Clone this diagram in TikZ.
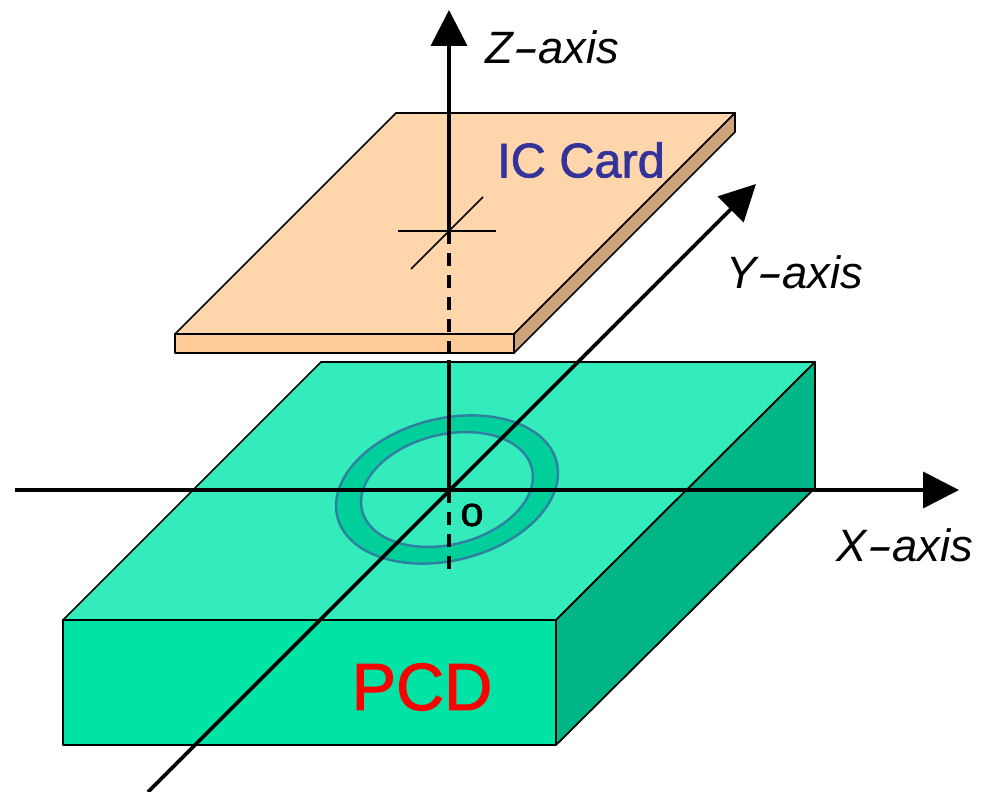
\documentclass[tikz,border=0pt]{standalone}
\usepackage{fontspec}
\setmainfont{Liberation Sans}
\newfontface\boldish[FakeBold=1.5]{Liberation Sans}
\usetikzlibrary{arrows.meta}
\definecolor{pcdfront}{HTML}{00E3A5}
\definecolor{pcdtop}{HTML}{33EBBB}
\definecolor{pcdside}{HTML}{00B586}
\definecolor{ringfill}{HTML}{00CF9B}
\definecolor{ringline}{HTML}{2F80A0}
\definecolor{cardtop}{HTML}{FFD5AC}
\definecolor{cardfront}{HTML}{FFCC99}
\definecolor{cardside}{HTML}{CCA37A}
\definecolor{cardtext}{HTML}{333399}
\newcommand{\hy}{\scalebox{1.7}[1]{-}}
\tikzset{
  solidface/.style={draw=black,line width=1.3pt,line join=round},
  axisline/.style={draw=black,line width=2.8pt},
  axisarrow/.style={axisline,-{Triangle[length=27pt,width=27pt]}},
  dashline/.style={axisline,dash pattern=on 9.5pt off 7pt},
  thinline/.style={draw=black,line width=1.3pt},
  axislabel/.style={font=\fontsize{34}{34}\selectfont\itshape,inner sep=0pt},
}
\begin{document}
\begin{tikzpicture}[x=0.75pt,y=-0.75pt]
\useasboundingbox (0,0) rectangle (983,792);
% named points
\coordinate (O) at (449,490);
\coordinate (Ztop) at (449,10);
\coordinate (Zcard) at (449,231);
\coordinate (Zpcd) at (449,360);
\coordinate (Zlow) at (449,570);
\coordinate (Xl) at (15,490);
\coordinate (Xr) at (959,490);
\coordinate (Yl) at (148,792);
\coordinate (Yr) at (756,184);
% PCD
\path[solidface,fill=pcdtop] (63,620) -- (321,362) -- (815,362) -- (556,620) -- cycle;
\path[solidface,fill=pcdfront] (63,620) rectangle (556,745);
\path[solidface,fill=pcdside] (556,620) -- (815,362) -- (815,488) -- (556,745) -- cycle;
% Ring
\path[fill=ringfill,even odd rule,draw=ringline,line width=1.8pt]
  [rotate around={14:(447,489.5)}]
  (447,489.5) ellipse [x radius=113,y radius=71]
  (447,489.5) ellipse [x radius=87.5,y radius=55];
% Z axis below the card
\draw[axisline] (Zpcd) -- (O);
\draw[dashline] (O) -- (Zlow);
% Card
\path[solidface,fill=cardtop] (175,334) -- (396,113) -- (735,113) -- (514,334) -- cycle;
\path[solidface,fill=cardfront] (175,334) rectangle (514,353);
\path[solidface,fill=cardside] (514,334) -- (735,113) -- (735,132) -- (514,353) -- cycle;
% Z axis on the card
\draw[dashline] (Zcard) -- (Zpcd);
\draw[axisarrow] (Zcard) -- (Ztop);
\draw[thinline] (398,231) -- (496,231);
\draw[thinline] (411,269) -- (483,197);
% Axes
\draw[axisarrow] (Xl) -- (Xr);
\draw[axisarrow] (Yl) -- (Yr);
% Labels
\node[axislabel,anchor=center] (zlabel) at (552,47) {Z\hy axis};
\node[axislabel,anchor=center] (ylabel) at (795,272) {Y\hy axis};
\node[axislabel,anchor=center] (xlabel) at (905,545) {X\hy axis};
\node[inner sep=0pt,font=\boldish\fontsize{31}{31}\selectfont] (olabel) at (472,515) {o};
\node[inner sep=0pt,text=cardtext,font=\boldish\fontsize{36.5}{36.5}\selectfont] (cardlabel) at (581,160) {IC Card};
\node[inner sep=0pt,text=red,font=\boldish\fontsize{50}{50}\selectfont] (pcdlabel) at (422,687) {PCD};
\end{tikzpicture}
\end{document}
